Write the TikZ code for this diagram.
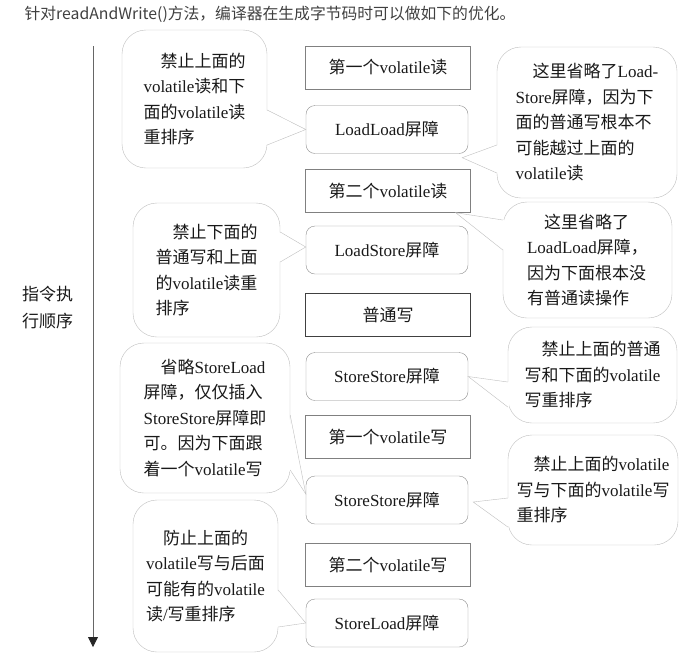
\documentclass[tikz,border=0pt]{standalone}
\usepackage{fontspec}
\setmainfont{Noto Sans CJK SC}
\newfontfamily\lat{Liberation Serif}
\newcommand\en[1]{{\lat #1}}
\usetikzlibrary{arrows.meta,calc}
\begin{document}
\begin{tikzpicture}[x=1pt,y=-1pt]
	\tikzset{>={Triangle[length=10pt,width=10pt,color=black!85]}}
	\tikzset{op/.style={draw=black!50,minimum width=165pt,minimum height=43pt,font=\fontsize{17}{20}\selectfont,text=black!90}}
	\tikzset{bar/.style={op,draw=black!45,rounded corners=9pt,minimum width=162pt,minimum height=48pt}}
	\tikzset{note/.style={draw=black!25,fill=white,rounded corners=24pt,align=left,font=\fontsize{17}{25.5}\selectfont,text=black!90}}
	\tikzset{noteline/.style={draw=black!25}}
	\useasboundingbox (0,0) rectangle (700,654);
	\node[anchor=west,font=\fontsize{15.8}{20}\selectfont,text=black!75] (title) at (21,14) {针对readAndWrite()方法，编译器在生成字节码时可以做如下的优化。};
	\coordinate (start) at (93,46);
	\coordinate (end) at (93,647);
	\draw[->,black!60,line width=0.8pt] (start) -- (end);
	\node[align=left,font=\fontsize{17}{27}\selectfont,text=black!90] (order) at (47.5,308) {指令执\\行顺序};
	\node[op] (rd1) at (388,67.5) {第一个\en{volatile}读};
	\node[bar] (ll) at (387,129.5) {\en{LoadLoad}屏障};
	\node[op] (rd2) at (388,191) {第二个\en{volatile}读};
	\node[bar] (ls) at (387,250) {\en{LoadStore}屏障};
	\node[op,draw=black!75] (wr) at (388,315) {普通写};
	\node[bar] (ss1) at (387,376.5) {\en{StoreStore}屏障};
	\node[op] (vw1) at (388,436.5) {第一个\en{volatile}写};
	\node[bar] (ss2) at (387,500) {\en{StoreStore}屏障};
	\node[op] (vw2) at (388,565) {第二个\en{volatile}写};
	\node[bar] (sl) at (387,623) {\en{StoreLoad}屏障};
	\node[note,minimum width=145pt,minimum height=138pt] (n1) at (194.5,99) {\hspace*{1em}禁止上面的\\\en{volatile}读和下\\面的\en{volatile}读\\重排序};
	\node[note,minimum width=147pt,minimum height=134pt] (n2) at (206.5,270) {\hspace*{1em}禁止下面的\\普通写和上面\\的\en{volatile}读重\\排序};
	\node[note,minimum width=170pt,minimum height=150pt] (n3) at (205,418) {\hspace*{1em}省略\en{StoreLoad}\\屏障，仅仅插入\\\en{StoreStore}屏障即\\可。因为下面跟\\着一个\en{volatile}写};
	\node[note,minimum width=145pt,minimum height=152pt] (n4) at (205.5,576) {\hspace*{1em}防止上面的\\\en{volatile}写与后面\\可能有的\en{volatile}\\读\en{/}写重排序};
	\node[note,minimum width=180pt,minimum height=151pt] (n5) at (587,122.5) {\hspace*{1em}这里省略了\en{Load-}\\\en{Store}屏障，因为下\\面的普通写根本不\\可能越过上面的\\\en{volatile}读};
	\node[note,minimum width=169pt,minimum height=116pt] (n6) at (587.5,260) {\hspace*{1em}这里省略了\\\en{LoadLoad}屏障，\\因为下面根本没\\有普通读操作};
	\node[note,minimum width=169pt,minimum height=96pt] (n7) at (592.5,375) {\hspace*{1em}禁止上面的普通\\写和下面的\en{volatile}\\写重排序};
	\node[note,minimum width=170pt,minimum height=110pt] (n8) at (593,490) {\hspace*{1em}禁止上面的\en{volatile}\\写与下面的\en{volatile}写\\重排序};
	\foreach \n/\side/\ya/\yb/\t/\dx/\dy/\s in {n1/east/110/145/ll.west/0/0/-1.5,
		n2/east/232/262/ls.west/0/-3/-1.5, n3/east/415/470/ss2.west/0/-6/-1.5,
		n4/east/590/627/sl.west/0/0/-1.5, n5/west/145/173/ll.south east/-6/4/1.5,
		n6/west/220/250/rd2.south east/-15/0/1.5, n7/west/382/407/ss1.east/0/0/1.5,
		n8/west/498/527/ss2.east/5/2/1.5}
	{
		\fill[white] ($(\n.\side |- 0,\ya)+(\s,0)$) -- ($(\t)+(\dx,\dy)$) -- ($(\n.\side |- 0,\yb)+(\s,0)$) -- cycle;
		\draw[noteline] (\n.\side |- 0,\ya) -- ($(\t)+(\dx,\dy)$) -- (\n.\side |- 0,\yb);
	}
\end{tikzpicture}
\end{document}
